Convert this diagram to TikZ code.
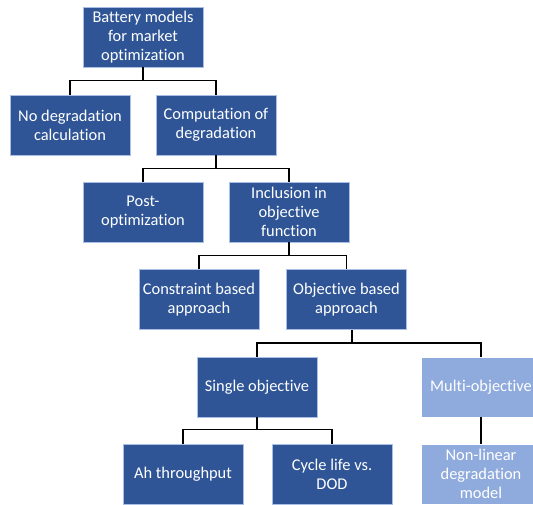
\documentclass[tikz,border=0pt]{standalone}
\usepackage{fontspec}
\setmainfont{Carlito}[Ligatures=NoCommon]
\definecolor{darkbox}{HTML}{2F5597}
\definecolor{lightbox}{HTML}{8FAADC}
\definecolor{boxline}{HTML}{A9BFE5}

\begin{document}
\begin{tikzpicture}[
        x=1pt, y=-1pt,
        block/.style={rectangle, draw=boxline, line width=0.6pt, fill=darkbox, text=white, align=center, minimum width=120pt, minimum height=60pt, inner sep=0pt, font=\fontsize{16.4}{19.2}\selectfont},
        softblock/.style={block, fill=lightbox, draw=white},
        link/.style={draw=black, line width=1.6pt}
    ]
        \clip (0,0) rectangle (533,504);

        \node[block] (root) at (143,37) {Battery models\\for market\\optimization};
        \node[block] (nodeg) at (70,125) {No degradation\\calculation};
        \node[block] (comp) at (216,125) {Computation of\\degradation};
        \node[block] (post) at (143,212) {Post-\\optimization};
        \node[block] (incl) at (289,212) {Inclusion in\\objective\\function};
        \node[block] (constr) at (199,299.5) {Constraint based\\approach};
        \node[block] (objb) at (346.5,299.5) {Objective based\\approach};
        \node[block] (single) at (257,387) {Single objective};
        \node[softblock] (multi) at (481,387) {Multi-objective};
        \node[block] (ah) at (183,474) {Ah throughput};
        \node[block] (cycle) at (332,474) {Cycle life vs.\\DOD};
        \node[softblock] (nonlin) at (481,474) {Non-linear\\degradation\\model};

        % elbow links, bar 13pt under the parent
        \draw[link] (root.south) -- +(0,13) -| (nodeg.north);
        \draw[link] (root.south) -- +(0,13) -| (comp.north);
        \draw[link] (comp.south) -- +(0,13) -| (post.north);
        \draw[link] (comp.south) -- +(0,13) -| (incl.north);
        \draw[link] (incl.south) -- +(0,13) -| (constr.north);
        \draw[link] (incl.south) -- +(0,13) -| (objb.north);
        \draw[link] ([xshift=5.5pt]objb.south) -- +(0,13) -| (single.north);
        \draw[link] ([xshift=5.5pt]objb.south) -- +(0,13) -| (multi.north);
        \draw[link] (single.south) -- +(0,12) -| (ah.north);
        \draw[link] (single.south) -- +(0,12) -| (cycle.north);
        \draw[link] (multi) -- (nonlin);
    \end{tikzpicture}
\end{document}
